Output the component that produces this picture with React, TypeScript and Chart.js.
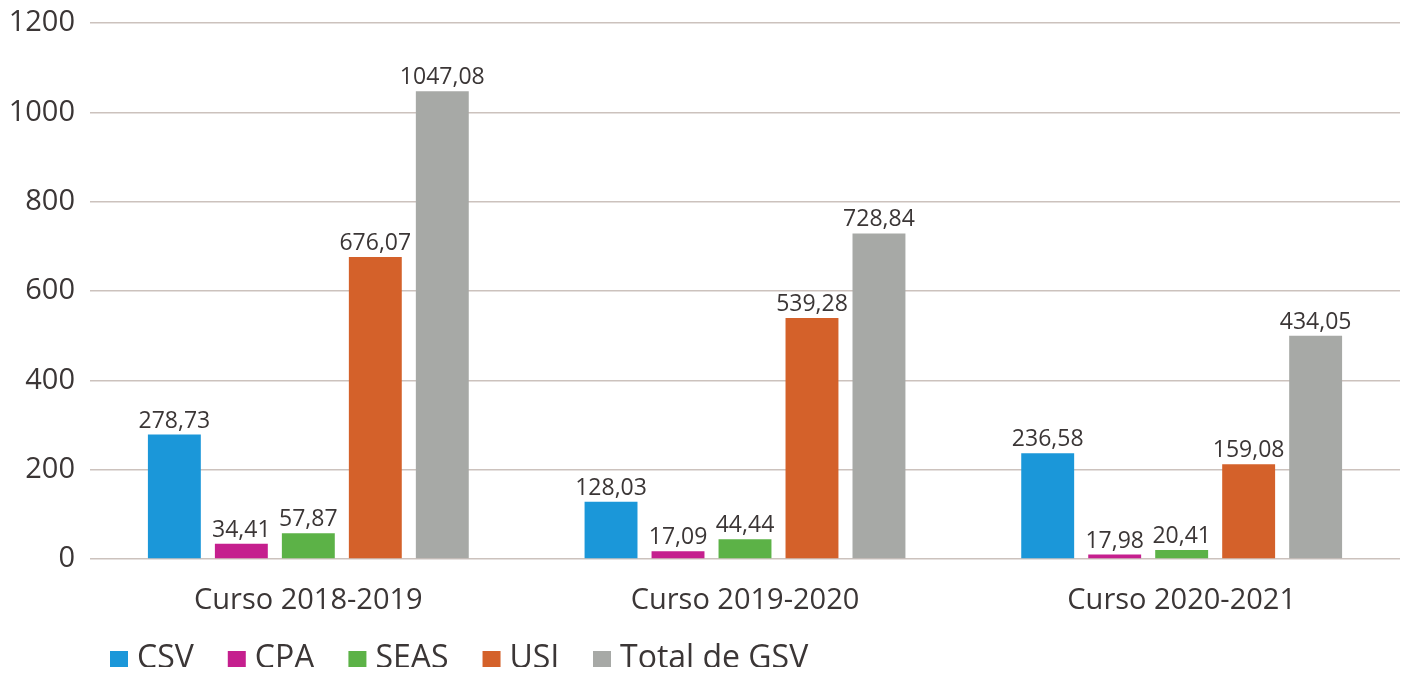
import React, { useEffect, useRef } from "react";
import { Chart, registerables } from "chart.js";

Chart.register(...registerables);

const categories = ["Curso 2018-2019", "Curso 2019-2020", "Curso 2020-2021"];
const seriesNames = ["CSV", "CPA", "SEAS", "USJ", "Total de GSV"];
// bar heights as drawn in the picture
const csvValues = [278.73, 128.03, 236.58];
const cpaValues = [34.41, 17.09, 10];
const seasValues = [57.87, 44.44, 20.41];
const usjValues = [676.07, 539.28, 212];
const totalValues = [1047.08, 728.84, 500];
// labels printed above the bars
const csvLabels = ["278,73", "128,03", "236,58"];
const cpaLabels = ["34,41", "17,09", "17,98"];
const seasLabels = ["57,87", "44,44", "20,41"];
const usjLabels = ["676,07", "539,28", "159,08"];
const totalLabels = ["1047,08", "728,84", "434,05"];
const yTicks = [0, 200, 400, 600, 800, 1000, 1200];

const colors = ["#1b97d9", "#c51f8e", "#5cb247", "#d4612a", "#a7a9a6"];
const FONT = "'Open Sans', 'DejaVu Sans', sans-serif";
const TEXT = "#3b3636";

const CANVAS_H = 667;
const PLOT_BOTTOM = 551;
const LEGEND_CENTER = 651;
const LEGEND_LEFT = 102;

export default function App() {
  const ref = useRef<HTMLCanvasElement>(null);
  useEffect(() => {
    const values = [csvValues, cpaValues, seasValues, usjValues, totalValues];
    const labels = [csvLabels, cpaLabels, seasLabels, usjLabels, totalLabels];
    const labelPlugin = {
      id: "barLabels",
      afterDatasetsDraw(chart: any) {
        const ctx = chart.ctx;
        ctx.save();
        ctx.font = `23px ${FONT}`;
        ctx.fillStyle = TEXT;
        ctx.textAlign = "center";
        ctx.textBaseline = "alphabetic";
        chart.data.datasets.forEach((ds: any, i: number) => {
          const meta = chart.getDatasetMeta(i);
          meta.data.forEach((bar: any, j: number) => {
            ctx.fillText(labels[i][j], bar.x, bar.y - 7);
          });
        });
        ctx.restore();
      },
    };
    const legendPlugin = {
      id: "bottomLegend",
      afterDraw(chart: any) {
        const ctx = chart.ctx;
        ctx.save();
        ctx.font = `32px ${FONT}`;
        ctx.textAlign = "left";
        ctx.textBaseline = "middle";
        let x = LEGEND_LEFT;
        chart.data.datasets.forEach((ds: any) => {
          ctx.fillStyle = ds.backgroundColor;
          ctx.fillRect(x, LEGEND_CENTER - 8, 18, 17);
          ctx.fillStyle = TEXT;
          const tx = x + 27;
          ctx.fillText(ds.label, tx, LEGEND_CENTER);
          x = tx + ctx.measureText(ds.label).width + 34;
        });
        ctx.restore();
      },
    };
    const chart = new Chart(ref.current!, {
      type: "bar",
      data: {
        labels: categories,
        datasets: seriesNames.map((name, i) => ({
          label: name,
          data: values[i],
          backgroundColor: colors[i],
          barPercentage: 0.79,
          categoryPercentage: 0.767,
        })),
      },
      options: {
        animation: false,
        responsive: true,
        maintainAspectRatio: false,
        layout: { padding: { top: 15, right: 5, left: 0, bottom: 0 } },
        plugins: {
          legend: { display: false },
          tooltip: { enabled: false },
        },
        scales: {
          x: {
            grid: { display: false },
            border: { display: false },
            afterFit(scale: any) {
              scale.height = CANVAS_H - PLOT_BOTTOM;
            },
            ticks: {
              color: TEXT,
              padding: 16,
              font: { family: FONT, size: 29 },
            },
          },
          y: {
            min: 0,
            max: 1200,
            afterBuildTicks(scale: any) {
              scale.ticks = yTicks.map((v) => ({ value: v }));
            },
            afterFit(scale: any) {
              scale.width = 82;
              scale.paddingTop = 0;
              scale.paddingBottom = 0;
            },
            border: { display: false },
            grid: { color: "#ccc2bd", lineWidth: 1.5, drawTicks: false },
            ticks: {
              color: TEXT,
              padding: 15,
              font: { family: FONT, size: 29 },
              callback: (v: any) => String(v),
            },
          },
        },
      },
      plugins: [labelPlugin, legendPlugin],
    });
    return () => chart.destroy();
  }, []);
  return (
    <div style={{ width: "100%", height: CANVAS_H, position: "relative", overflow: "hidden", marginBottom: -8 }}>
      <canvas ref={ref} />
    </div>
  );
}
